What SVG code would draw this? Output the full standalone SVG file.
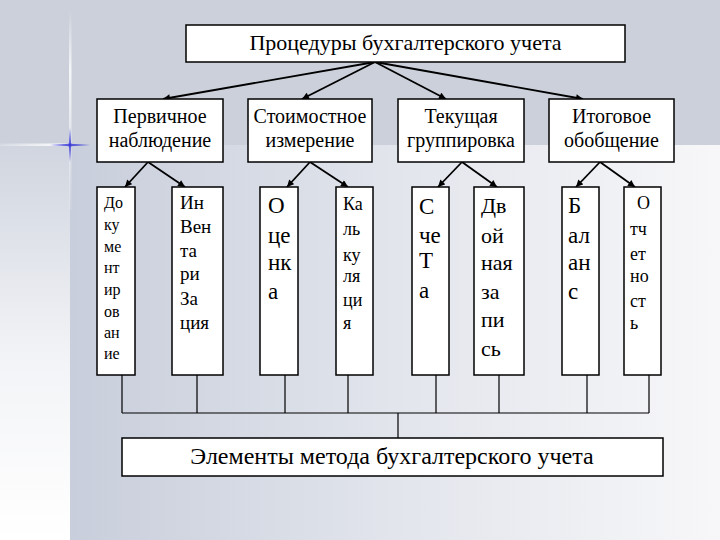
<svg xmlns="http://www.w3.org/2000/svg" width="720" height="540" viewBox="0 0 720 540">
<defs>
<linearGradient id="bgMain" x1="0" y1="0" x2="1" y2="0">
<stop offset="0" stop-color="#c8cedb"/>
<stop offset="0.5" stop-color="#e2e5ec"/>
<stop offset="1" stop-color="#f7f7f9"/>
</linearGradient>
<linearGradient id="bgLeft" x1="0" y1="0" x2="0" y2="1">
<stop offset="0" stop-color="#d0d5df"/>
<stop offset="0.55" stop-color="#f3f4f7"/>
<stop offset="1" stop-color="#ffffff"/>
</linearGradient>
<linearGradient id="hl" x1="0" y1="0" x2="1" y2="0">
<stop offset="0" stop-color="#ffffff" stop-opacity="0.2"/>
<stop offset="0.8" stop-color="#ffffff" stop-opacity="0.9"/>
<stop offset="1" stop-color="#ffffff" stop-opacity="0"/>
</linearGradient>
<linearGradient id="vl" x1="0" y1="0" x2="0" y2="1">
<stop offset="0" stop-color="#ffffff" stop-opacity="0"/>
<stop offset="0.3" stop-color="#ffffff" stop-opacity="0.8"/>
<stop offset="1" stop-color="#ffffff" stop-opacity="0.1"/>
</linearGradient>
<radialGradient id="star">
<stop offset="0" stop-color="#2a2ad0"/>
<stop offset="1" stop-color="#6a6ae0" stop-opacity="0"/>
</radialGradient>
<marker id="ah" viewBox="0 0 10 10" refX="10" refY="5" markerWidth="8" markerHeight="7" markerUnits="userSpaceOnUse" orient="auto">
<path d="M0,0 L10,5 L0,10 z" fill="#000"/>
</marker>
<style>
.bx{fill:#fff;stroke:#000;stroke-width:1.5}
.c{text-anchor:middle}
.ar{stroke:#000;stroke-width:1.8;fill:none;marker-end:url(#ah)}
.ln{stroke:#000;stroke-width:1.2;fill:none}
</style>
</defs>

<g id="background">
<rect x="0" y="0" width="720" height="540" fill="#cbd0da"/>
<rect x="70" y="145" width="650" height="395" fill="url(#bgMain)"/>
<rect x="0" y="145" width="70" height="395" fill="url(#bgLeft)"/>
<rect x="0" y="143.5" width="75" height="2.5" fill="url(#hl)"/>
<rect x="69" y="10" width="2.5" height="200" fill="url(#vl)"/>
<path d="M50,145 L70,143.8 L90,145 L70,146.2 z" fill="#3a3ad8" opacity="0.8"/>
<path d="M68.8,125 L70,145 L71.2,165 L70,145 z M70,128 L71.2,145 L70,162 L68.8,145 z" fill="#3a3ad8" opacity="0.8"/>
<circle cx="70" cy="145" r="3" fill="url(#star)"/>
</g>

<g id="connectors">
<line class="ar" x1="375" y1="62" x2="163" y2="99"/>
<line class="ar" x1="375" y1="62" x2="302" y2="99"/>
<line class="ar" x1="375" y1="62" x2="446" y2="99"/>
<line class="ar" x1="375" y1="62" x2="583" y2="99"/>
<line class="ar" x1="148" y1="162" x2="125" y2="187"/>
<line class="ar" x1="148" y1="162" x2="185" y2="187"/>
<line class="ar" x1="310" y1="162" x2="287" y2="187"/>
<line class="ar" x1="310" y1="162" x2="348" y2="187"/>
<line class="ar" x1="462" y1="162" x2="438" y2="187"/>
<line class="ar" x1="462" y1="162" x2="497" y2="187"/>
<line class="ar" x1="600" y1="162" x2="576" y2="187"/>
<line class="ar" x1="600" y1="162" x2="635" y2="187"/>
<path class="ln" d="M122,375 V413 M197,375 V413 M285,375 V413 M348,375 V413 M436,375 V413 M499,375 V413 M587,375 V413 M649,375 V413 M122,413 H649 M398,413 V438"/>
</g>

<g font-family="Liberation Serif, DejaVu Serif, serif" fill="#000">
<g id="top">
<rect class="bx" x="186" y="25" width="439" height="37"/>
<text class="c" x="405.5" y="50" font-size="22">Процедуры бухгалтерского учета</text>
</g>

<g id="n1">
<rect class="bx" x="97" y="99" width="126" height="63"/>
<text class="c" x="160" y="123" font-size="20">Первичное</text>
<text class="c" x="160" y="147" font-size="20">наблюдение</text>
</g>
<g id="n2">
<rect class="bx" x="248" y="99" width="124" height="63"/>
<text class="c" x="310" y="123" font-size="20">Стоимостное</text>
<text class="c" x="310" y="147" font-size="20">измерение</text>
</g>
<g id="n3">
<rect class="bx" x="398" y="99" width="126" height="63"/>
<text class="c" x="461" y="123" font-size="20">Текущая</text>
<text class="c" x="461" y="147" font-size="20">группировка</text>
</g>
<g id="n4">
<rect class="bx" x="549" y="99" width="125" height="63"/>
<text class="c" x="611.5" y="123" font-size="20">Итоговое</text>
<text class="c" x="611.5" y="147" font-size="20">обобщение</text>
</g>

<g id="a">
<rect class="bx" x="97" y="187" width="38" height="188"/>
<g font-size="16">
<text x="104" y="208">До</text>
<text x="104" y="230">ку</text>
<text x="104" y="252">ме</text>
<text x="104" y="273">нт</text>
<text x="104" y="295">ир</text>
<text x="104" y="317">ов</text>
<text x="104" y="338">ан</text>
<text x="104" y="359">ие</text>
</g>
</g>
<g id="b">
<rect class="bx" x="172" y="187" width="51" height="188"/>
<g font-size="19">
<text x="180" y="209">Ин</text>
<text x="180" y="233">Вен</text>
<text x="180" y="257">та</text>
<text x="180" y="280">ри</text>
<text x="180" y="305">За</text>
<text x="180" y="329">ция</text>
</g>
</g>
<g id="c">
<rect class="bx" x="260" y="187" width="38" height="188"/>
<g font-size="23">
<text x="268" y="213">О</text>
<text x="268" y="243">це</text>
<text x="268" y="270">нк</text>
<text x="268" y="299">а</text>
</g>
</g>
<g id="d">
<rect class="bx" x="336" y="187" width="37" height="188"/>
<g font-size="18">
<text x="343" y="210">Ка</text>
<text x="343" y="235">ль</text>
<text x="343" y="261">ку</text>
<text x="343" y="282">ля</text>
<text x="343" y="306">ци</text>
<text x="343" y="329">я</text>
</g>
</g>
<g id="e">
<rect class="bx" x="412" y="187" width="37" height="188"/>
<g font-size="23">
<text x="419" y="214">С</text>
<text x="419" y="243">че</text>
<text x="419" y="268">Т</text>
<text x="419" y="298">а</text>
</g>
</g>
<g id="f">
<rect class="bx" x="474" y="187" width="50" height="188"/>
<g font-size="22">
<text x="481" y="213">Дв</text>
<text x="481" y="243">ой</text>
<text x="481" y="270">ная</text>
<text x="481" y="299">за</text>
<text x="481" y="327">пи</text>
<text x="481" y="356">сь</text>
</g>
</g>
<g id="g">
<rect class="bx" x="562" y="187" width="37" height="188"/>
<g font-size="23">
<text x="568" y="213">Б</text>
<text x="568" y="243">ал</text>
<text x="568" y="270">ан</text>
<text x="568" y="299">с</text>
</g>
</g>
<g id="h">
<rect class="bx" x="624" y="187" width="37" height="188"/>
<g font-size="18">
<text x="637" y="209">О</text>
<text x="630" y="235">тч</text>
<text x="630" y="260">ет</text>
<text x="630" y="282">но</text>
<text x="630" y="307">ст</text>
<text x="630" y="329">ь</text>
</g>
</g>

<g id="bottom">
<rect class="bx" x="122" y="438" width="541" height="38"/>
<text class="c" x="392" y="464" font-size="24">Элементы метода бухгалтерского учета</text>
</g>
</g>
</svg>
